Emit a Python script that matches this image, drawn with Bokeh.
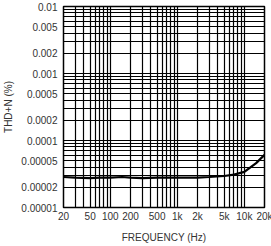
from bokeh.plotting import figure
from bokeh.models import FixedTicker
from bokeh.embed import file_html
from bokeh.resources import INLINE

# Data
freq_hz = [20, 30, 50, 70, 100, 150, 200, 300, 500, 700, 1000, 2000, 3000, 5000, 7000, 10000, 15000, 20000]
thdn_pct = [2.85e-5, 2.8e-5, 2.75e-5, 2.8e-5, 2.8e-5, 2.85e-5, 2.8e-5, 2.75e-5, 2.8e-5, 2.8e-5,
            2.8e-5, 2.8e-5, 2.85e-5, 2.95e-5, 3.1e-5, 3.4e-5, 4.6e-5, 6.1e-5]

x_ticks = [20, 50, 100, 200, 500, 1000, 2000, 5000, 10000, 20000]
x_labels = ["20", "50", "100", "200", "500", "1k", "2k", "5k", "10k", "20k"]
y_ticks = [1e-5, 2e-5, 5e-5, 1e-4, 2e-4, 5e-4, 1e-3, 2e-3, 5e-3, 1e-2]
y_labels = ["0.00001", "0.00002", "0.00005", "0.0001", "0.0002", "0.0005", "0.001", "0.002", "0.005", "0.01"]

x_grid = [m * 10 ** e for e in range(1, 5) for m in range(1, 10) if 20 <= m * 10 ** e <= 20000]
y_grid = [m * 10.0 ** e for e in range(-5, -2) for m in range(1, 10)] + [1e-2]

FONT = "Liberation Sans"
TXT = "#333333"

p = figure(width=271, height=246, x_axis_type="log", y_axis_type="log",
           x_range=(20, 20000), y_range=(1e-5, 1e-2),
           output_backend="svg", toolbar_location=None,
           min_border_left=0, min_border_right=8, min_border_top=6, min_border_bottom=0)
p.frame_width = 201
p.frame_height = 201

p.outline_line_color = "black"
p.outline_line_width = 1.5
p.background_fill_color = "white"
p.border_fill_color = "white"

p.xaxis.ticker = FixedTicker(ticks=x_ticks, minor_ticks=[])
p.yaxis.ticker = FixedTicker(ticks=y_ticks, minor_ticks=[])
p.xaxis.major_label_overrides = dict(zip(x_ticks, x_labels))
p.yaxis.major_label_overrides = dict(zip(y_ticks, y_labels))

p.xgrid.ticker = FixedTicker(ticks=x_grid)
p.ygrid.ticker = FixedTicker(ticks=y_grid)
for g in (p.xgrid, p.ygrid):
    g.grid_line_color = "black"
    g.grid_line_width = 1.2
    g.grid_line_alpha = 1.0

for ax in (p.xaxis, p.yaxis):
    ax.axis_line_color = None
    ax.major_tick_line_color = None
    ax.minor_tick_line_color = None
    ax.major_tick_out = 0
    ax.major_tick_in = 0
    ax.minor_tick_out = 0
    ax.minor_tick_in = 0
    ax.major_label_text_font = FONT
    ax.major_label_text_font_size = "10px"
    ax.major_label_text_color = TXT
    ax.axis_label_text_font = FONT
    ax.axis_label_text_font_size = "10px"
    ax.axis_label_text_font_style = "normal"
    ax.axis_label_text_color = TXT

p.xaxis.major_label_standoff = 3
p.yaxis.major_label_standoff = 6
p.yaxis.axis_label = "THD+N (%)"
p.yaxis.axis_label_standoff = 4
p.xaxis.axis_label = "FREQUENCY (Hz)"
p.xaxis.axis_label_standoff = 7

p.line(freq_hz, thdn_pct, line_color="black", line_width=2.2)

open("out.html", "w").write(file_html(p, INLINE))
